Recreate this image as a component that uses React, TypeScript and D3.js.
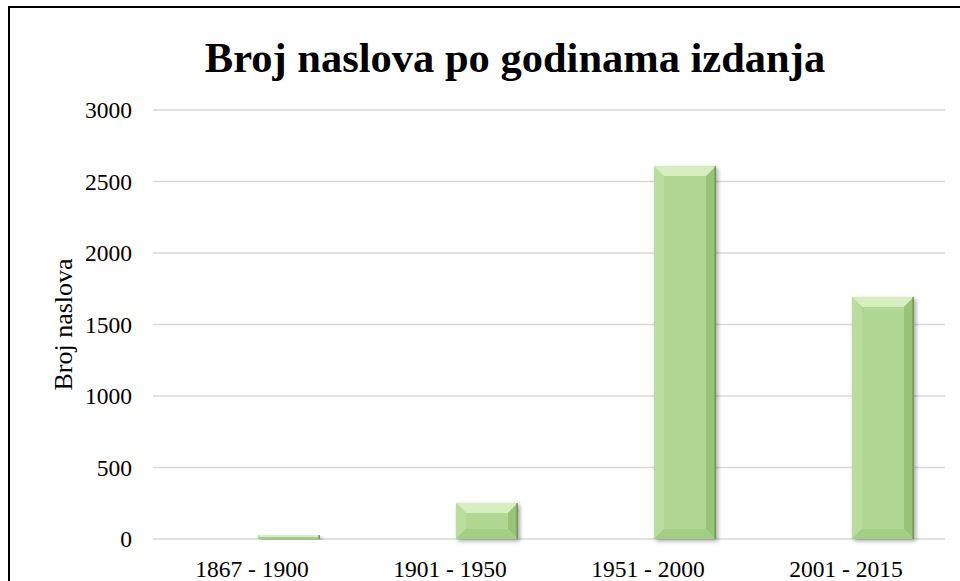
import * as d3 from "d3";
import React from "react";

const categories = ["1867 - 1900", "1901 - 1950", "1951 - 2000", "2001 - 2015"];
const counts = [28, 251, 2607, 1692];
const yTicks = [0, 500, 1000, 1500, 2000, 2500, 3000];

const W = 960;
const H = 581;
const margin = { left: 153, right: 15, top: 110, bottom: 42 };

const App: React.FC = () => {
    const x = d3.scaleBand<string>().domain(categories).range([margin.left, W - margin.right]);
    const y = d3.scaleLinear().domain([0, 3000]).range([H - margin.bottom, margin.top]);
    const bw = x.bandwidth();
    const font = "'Liberation Serif', 'Times New Roman', serif";

    return (
        <svg width={W} height={H} style={{ position: "fixed", left: 0, top: 0, background: "white" }}>
            <defs>
                <filter id="shadow" x="-20%" y="-20%" width="140%" height="140%">
                    <feGaussianBlur in="SourceAlpha" stdDeviation="2" />
                    <feOffset dx="2" dy="2" result="b" />
                    <feComponentTransfer><feFuncA type="linear" slope="0.35" /></feComponentTransfer>
                    <feMerge><feMergeNode /><feMergeNode in="SourceGraphic" /></feMerge>
                </filter>
            </defs>
            <rect x={9} y={7} width={W} height={H} fill="none" stroke="#000" strokeWidth={2} />
            <text x={515} y={72} textAnchor="middle" fontFamily={font} fontWeight="bold" fontSize={42.5}>
                Broj naslova po godinama izdanja
            </text>
            {yTicks.map(t => (
                <g key={t}>
                    <line x1={margin.left} x2={W - margin.right} y1={y(t)} y2={y(t)} stroke="#d9d9d9" strokeWidth={1.5} />
                    <text x={132} y={y(t)} dy="0.35em" textAnchor="end" fontFamily={font} fontSize={23.5}>{t}</text>
                </g>
            ))}
            <text transform={`translate(72, ${(y(0) + y(3000)) / 2}) rotate(-90)`} textAnchor="middle"
                fontFamily={font} fontSize={26}>Broj naslova</text>
            {categories.map((c, i) => {
                const x0 = x(c)! + bw * 0.53;
                const w = bw * 0.313;
                const y0 = y(counts[i]);
                const h = y(0) - y0;
                const b = Math.min(10, h / 2);
                const x1 = x0 + w;
                const yb = y0 + h;
                return (
                    <g key={c} filter="url(#shadow)">
                        <rect x={x0} y={y0} width={w} height={h} fill="#aed68f" />
                        <polygon points={`${x0},${y0} ${x1},${y0} ${x1 - b},${y0 + b} ${x0 + b},${y0 + b}`} fill="#d6eec0" />
                        <polygon points={`${x0},${y0} ${x0 + b},${y0 + b} ${x0 + b},${yb - b} ${x0},${yb}`} fill="#b9dd9e" />
                        <polygon points={`${x1},${y0} ${x1 - b},${y0 + b} ${x1 - b},${yb - b} ${x1},${yb}`} fill="#98c378" />
                        <polygon points={`${x0},${yb} ${x0 + b},${yb - b} ${x1 - b},${yb - b} ${x1},${yb}`} fill="#a4ce86" />
                        <rect x={x0 + b} y={y0 + b} width={Math.max(0, w - 2 * b)} height={Math.max(0, h - 2 * b)} fill="#b0d892" />
                        <rect x={x1 - 1.5} y={y0} width={1.5} height={h} fill="#6f9a55" />
                    </g>
                );
            })}
            {categories.map(c => (
                <text key={c} x={x(c)! + bw / 2} y={577} textAnchor="middle" fontFamily={font} fontSize={23.5}>{c}</text>
            ))}
        </svg>
    );
};

export default App;
